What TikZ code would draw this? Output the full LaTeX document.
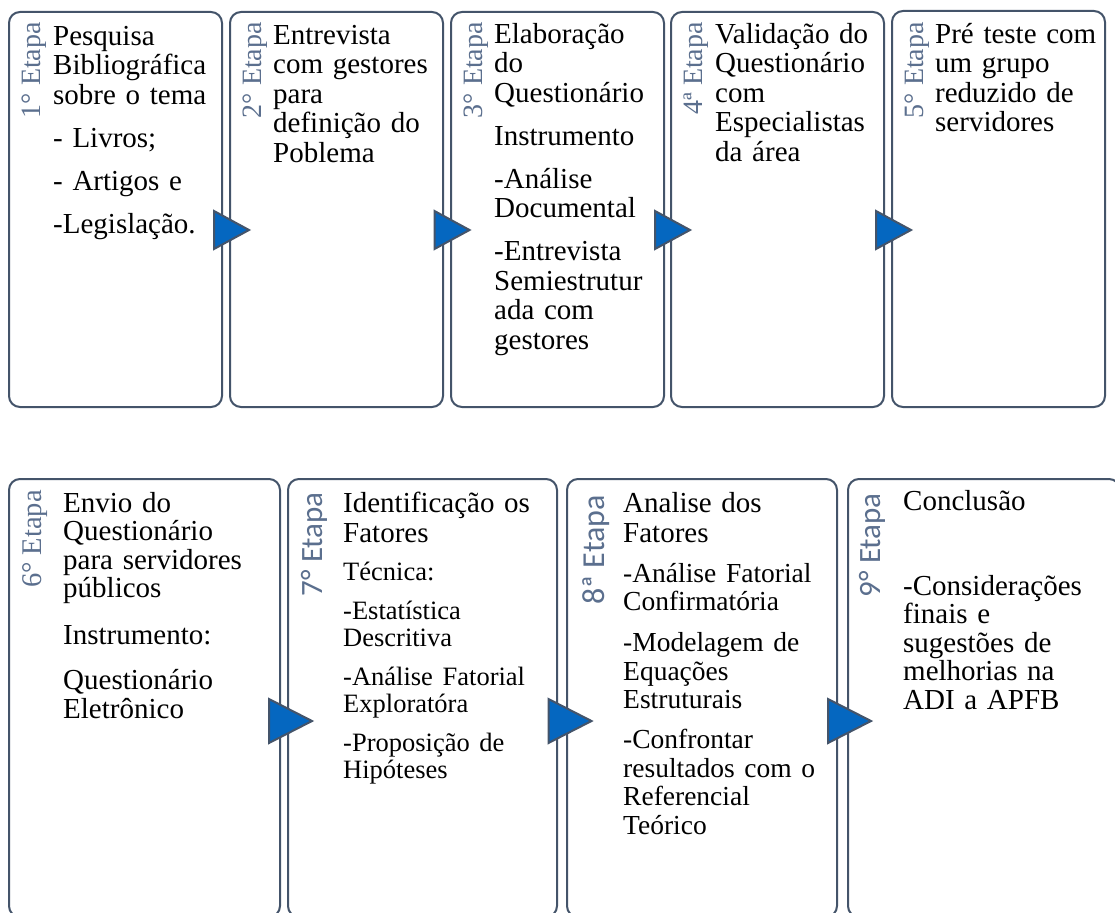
\documentclass[tikz,border=0pt]{standalone}
\usepackage{fontspec}
\setmainfont{Liberation Serif}
\newfontfamily\sansf{Carlito}
\definecolor{border}{HTML}{44546A}
\definecolor{labcol}{HTML}{5B6F8E}
\definecolor{arrowblue}{HTML}{0567C0}
\newcommand\firststrut{\rule{0pt}{27pt}}
\tikzset{
  box/.style={draw=border, line width=2pt, rounded corners=11pt, inner sep=0pt, fill=white},
  tri/.style={fill=arrowblue, draw=border, line width=2pt, line join=miter},
  lab/.style={text=labcol, inner sep=0pt, rotate=90, anchor=base east},
  bodytext/.style={inner sep=0pt, anchor=north west, align=left, text width=#1},
}
\begin{document}
\begin{tikzpicture}[x=1pt,y=-1pt]
\useasboundingbox (0,0) rectangle (1115,912);
\clip (0,0) rectangle (1115,912);
\fill[white] (0,0) rectangle (1115,912);
% ---------- top row boxes ----------
\node[box, minimum width=213pt, minimum height=395pt] (b1) at (115.5,209.5) {};
\node[box, minimum width=213pt, minimum height=395pt] (b2) at (336.5,209.5) {};
\node[box, minimum width=213pt, minimum height=395pt] (b3) at (557.5,209.5) {};
\node[box, minimum width=213pt, minimum height=395pt] (b4) at (777.5,209.5) {};
\node[box, minimum width=213pt, minimum height=396pt] (b5) at (998.5,209) {};
% ---------- bottom row boxes ----------
\node[box, minimum width=271pt, minimum height=438pt] (b6) at (144.5,698) {};
\node[box, minimum width=269pt, minimum height=438pt] (b7) at (422.5,698) {};
\node[box, minimum width=270pt, minimum height=438pt] (b8) at (702,698) {};
\node[box, minimum width=272pt, minimum height=438pt] (b9) at (984,698) {};
% ---------- arrows ----------
\draw[tri] (214,211) -- (249,230) -- (214,249) -- cycle;
\draw[tri] (434.5,211) -- (469.5,230) -- (434.5,249) -- cycle;
\draw[tri] (655,211) -- (690,230) -- (655,249) -- cycle;
\draw[tri] (876,211) -- (911,230) -- (876,249) -- cycle;
\draw[tri] (269,699) -- (312,721) -- (269,743) -- cycle;
\draw[tri] (548.5,699) -- (591.5,721) -- (548.5,743) -- cycle;
\draw[tri] (828,699) -- (871,721) -- (828,743) -- cycle;
% ---------- labels ----------
\node[lab, font=\fontsize{28}{30}\selectfont] (l1) at (40,22) {1° Etapa};
\node[lab, font=\fontsize{28}{30}\selectfont] (l2) at (261,22) {2° Etapa};
\node[lab, font=\fontsize{28}{30}\selectfont] (l3) at (482,22) {3° Etapa};
\node[lab, font=\fontsize{28}{30}\selectfont] (l4) at (702,22) {4ª Etapa};
\node[lab, font=\fontsize{28}{30}\selectfont] (l5) at (923,22) {5° Etapa};
\node[lab, font=\fontsize{28.5}{30}\selectfont] (l6) at (41,490) {6° Etapa};
\node[lab, font=\sansf\fontsize{31}{33}\selectfont] (l7) at (322,492) {7° Etapa};
\node[lab, font=\sansf\fontsize{32}{34}\selectfont] (l8) at (604,495) {8ª Etapa};
\node[lab, font=\sansf\fontsize{31}{33}\selectfont] (l9) at (880,493) {9° Etapa};
% ---------- top texts ----------
\node[bodytext=170pt, font=\fontsize{29}{29.5}\selectfont] (t1) at (53,18) {\firststrut Pesquisa\\ Bibliográfica\\ sobre o tema\\[13.5pt] - Livros;\\[13.5pt] - Artigos e\\[13.5pt] -Legislação.};
\node[bodytext=170pt, font=\fontsize{29}{29.5}\selectfont] (t2) at (273,17) {\firststrut Entrevista\\ \makebox[159pt][s]{com gestores}\\ para\\ \makebox[159pt][s]{definição do}\\ Poblema};
\node[bodytext=170pt, font=\fontsize{29}{29.5}\selectfont] (t3) at (494,16) {\firststrut Elaboração\\ do\\ Questionário\\[13.5pt] Instrumento\\[13.5pt] -Análise\\ Documental\\[13.5pt] -Entrevista\\ Semiestrutur\\ ada com\\ gestores};
\node[bodytext=170pt, font=\fontsize{29}{29.5}\selectfont] (t4) at (715,16) {\firststrut Validação do\\ Questionário\\ com\\ Especialistas\\ da área};
\node[bodytext=170pt, font=\fontsize{29}{29.5}\selectfont] (t5) at (935,16) {\firststrut Pré teste com\\ um grupo\\ reduzido de\\ servidores};
% ---------- bottom texts ----------
\node[bodytext=215pt, font=\fontsize{29}{28.5}\selectfont] (t6) at (63,485) {\firststrut Envio do\\ Questionário\\ para servidores\\ públicos\\[18pt] Instrumento:\\[17pt] Questionário\\ Eletrônico};
\node[bodytext=215pt, font=\fontsize{29}{27.5}\selectfont] (t7) at (343,485) {\firststrut Identificação os\\[2.5pt] Fatores\\[11pt] \fontsize{26.5}{27.5}\selectfont Técnica:\\[11pt] -Estatística\\ Descritiva\\[11pt] -Análise Fatorial\\ Exploratóra\\[11pt] -Proposição de\\ Hipóteses};
\node[bodytext=215pt, font=\fontsize{29}{28.5}\selectfont] (t8) at (623,485) {\firststrut Analise dos\\[1.5pt] Fatores\\[11.5pt] \fontsize{27.5}{28.5}\selectfont -Análise Fatorial\\ Confirmatória\\[12.5pt] -Modelagem de\\ Equações\\ Estruturais\\[11.5pt] -Confrontar\\ resultados com o\\ Referencial\\ Teórico};
\node[bodytext=215pt, font=\fontsize{29}{28.5}\selectfont] (t9) at (903,483) {\firststrut Conclusão\\[56.5pt] -Considerações\\ finais e\\ sugestões de\\ melhorias na\\ ADI a APFB};
\end{tikzpicture}
\end{document}
